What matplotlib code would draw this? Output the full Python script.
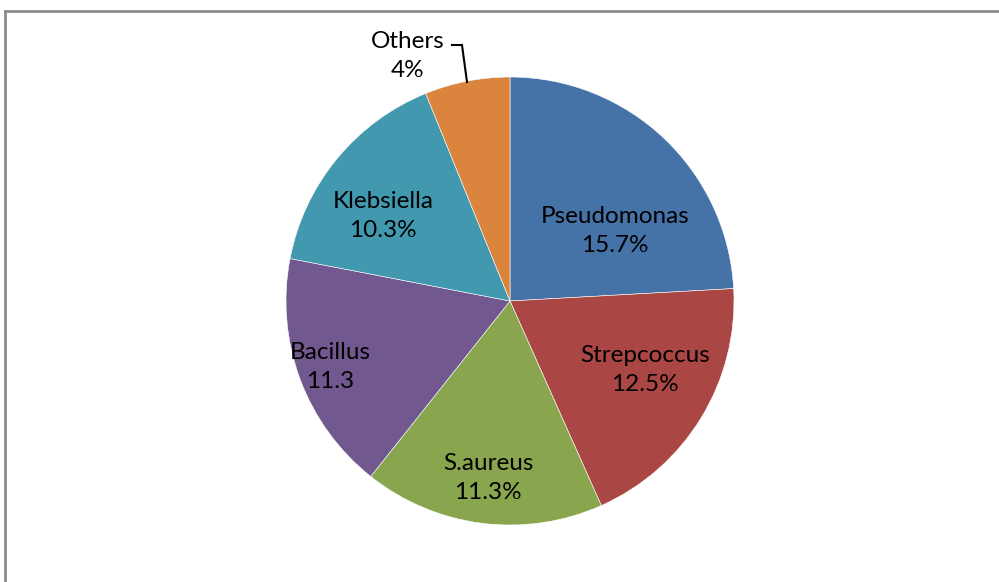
import matplotlib.pyplot as plt

# --- data ---
labels = ["Pseudomonas", "Strepcoccus", "S.aureus", "Bacillus", "Klebsiella", "Others"]
values = [15.7, 12.5, 11.3, 11.3, 10.3, 4]
value_text = ["15.7%", "12.5%", "11.3%", "11.3", "10.3%", "4%"]
colors = ["#4572A7", "#AA4643", "#89A54E", "#71588F", "#4198AF", "#DB843D"]

# label centres (image pixels)
label_pos = [(615, 231), (645, 370), (488, 478), (330, 367), (383, 216), (408, 56)]

W, H = 999, 582
fig = plt.figure(figsize=(W / 100, H / 100), dpi=100)
ax = fig.add_axes([0, 0, 1, 1])

cx, cy, r = 510, H - 301, 224
ax.pie(values, colors=colors, startangle=90, counterclock=False,
       center=(cx, cy), radius=r,
       wedgeprops=dict(edgecolor="white", linewidth=0.4))
ax.set_xlim(0, W)
ax.set_ylim(0, H)
ax.set_aspect("equal")
ax.axis("off")

for name, val, (x, y) in zip(labels, value_text, label_pos):
    ax.text(x, H - y, f"{name}\n{val}", ha="center", va="center",
            fontsize=17.5, family=["Lato", "DejaVu Sans"], color="black",
            linespacing=1.5)

# leader line for Others
ax.plot([452, 462, 467], [H - 45, H - 45, H - 82], color="black", lw=1.5,
        solid_joinstyle="miter")

# chart area border (top and left visible)
ax.plot([5, W], [H - 11, H - 11], color="#8c8c8c", lw=2)
ax.plot([5, 5], [H - 11, 0], color="#8c8c8c", lw=2)

fig.savefig("out.png", dpi=100)
